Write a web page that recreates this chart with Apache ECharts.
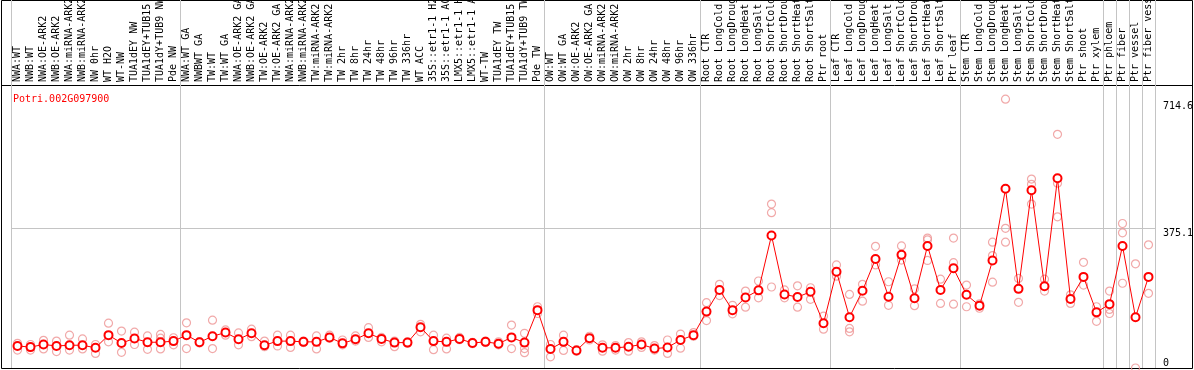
<!DOCTYPE html>
<html>
<head>
<meta charset="utf-8">
<script src="https://cdn.jsdelivr.net/npm/echarts@6/dist/echarts.min.js"></script>
<style>
  html, body { margin: 0; padding: 0; background: #fff; }
  #chart { width: 1194px; height: 370px; }
</style>
</head>
<body>
<div id="chart"></div>
<script>
const geneId = 'Potri.002G097900'

const categories = [
  'NWA:WT', 'NWB:WT', 'NWA:OE-ARK2', 'NWB:OE-ARK2', 'NWA:miRNA-ARK2', 'NWB:miRNA-ARK2', 'NW 0hr', 'WT H2O', 'WT-NW',
  'TUA1dEY NW', 'TUA1dEY+TUB15 NW', 'TUA1dY+TUB9 NW', 'Pde NW',
  'NWA:WT GA', 'NWBWT GA', 'TW:WT', 'TW:WT GA', 'NWA:OE-ARK2 GA', 'NWB:OE-ARK2 GA', 'TW:OE-ARK2', 'TW:OE-ARK2 GA',
  'NWA:miRNA-ARK2 GA', 'NWB:miRNA-ARK2 GA', 'TW:miRNA-ARK2', 'TW:miRNA-ARK2 GA',
  'TW 2hr', 'TW 8hr', 'TW 24hr', 'TW 48hr', 'TW 96hr', 'TW 336hr', 'WT ACC',
  '35S::etr1-1 H2O', '35S::etr1-1 ACC', 'LMX5::etr1-1 H2O', 'LMX5::etr1-1 ACC', 'WT-TW',
  'TUA1dEY TW', 'TUA1dEY+TUB15 TW', 'TUA1dY+TUB9 TW', 'Pde TW',
  'OW:WT', 'OW:WT GA', 'OW:OE-ARK2', 'OW:OE-ARK2 GA', 'OW:miRNA-ARK2', 'OW:miRNA-ARK2 GA',
  'OW 2hr', 'OW 8hr', 'OW 24hr', 'OW 48hr', 'OW 96hr', 'OW 336hr',
  'Root CTR', 'Root LongCold', 'Root LongDrought', 'Root LongHeat', 'Root LongSalt',
  'Root ShortCold', 'Root ShortDrought', 'Root ShortHeat', 'Root ShortSalt', 'Ptr root',
  'Leaf CTR', 'Leaf LongCold', 'Leaf LongDrought', 'Leaf LongHeat', 'Leaf LongSalt',
  'Leaf ShortCold', 'Leaf ShortDrought', 'Leaf ShortHeat', 'Leaf ShortSalt', 'Ptr leaf',
  'Stem CTR', 'Stem LongCold', 'Stem LongDrought', 'Stem LongHeat', 'Stem LongSalt',
  'Stem ShortCold', 'Stem ShortDrought', 'Stem ShortHeat', 'Stem ShortSalt', 'Ptr shoot',
  'Ptr xylem', 'Ptr phloem', 'Ptr fiber', 'Ptr vessel', 'Ptr fiber vessel'
]

// mean expression per sample
const means = [
  59, 56, 63, 59, 61, 61, 54, 88, 67, 79, 69, 69, 72, 88, 69, 85, 95, 77, 93, 61, 72, 72,
  70, 70, 82, 66, 77, 93, 78, 68, 68, 109, 72, 70, 78, 67, 70, 65, 82, 68, 155, 51, 70, 47,
  80, 54, 54, 57, 63, 52, 55, 75, 88, 151, 209, 155, 189, 208, 355, 197, 190, 204, 120, 258, 136, 207, 292, 191,
  303, 187, 327, 209, 267, 196, 167, 288, 480, 212, 476, 219, 508, 185, 244, 149, 171, 327, 136, 244
]

// individual replicates per sample
const replicates = [
  [66, 48], [63, 48], [74, 51], [72, 44], [88, 48], [78, 51], [63, 39], [120, 70], [99, 42], [96, 63],
  [86, 50], [90, 51, 80], [81, 62], [121, 52], [67, 71], [128, 52], [102, 88], [94, 62], [104, 84], [72, 57],
  [88, 59], [88, 55], [68, 72], [86, 51], [88, 80], [75, 62], [86, 72], [108, 82], [82, 70], [72, 57],
  [70, 66], [117, 97], [88, 49], [80, 51], [82, 76], [65, 69], [68, 72], [70, 62], [115, 52], [93, 52, 41],
  [164, 146], [63, 30], [88, 47], [45, 49], [75, 85], [62, 45], [60, 48], [68, 45], [70, 55], [60, 48],
  [75, 39], [91, 53], [95, 85], [175, 127], [224, 194], [168, 145], [206, 163], [233, 188], [439, 416, 217], [209, 188],
  [220, 163], [215, 184], [139, 104], [276, 246], [197, 106, 97], [224, 179], [326, 276], [231, 168], [327, 289], [212, 167],
  [348, 343, 288], [238, 173], [348, 282, 171], [222, 164], [160, 172], [337, 301, 230], [720, 374, 337], [240, 176], [506, 492, 439], [238, 206],
  [626, 495, 405], [196, 173], [283, 222], [164, 125], [206, 157, 146], [387, 362, 227], [279, 0], [330, 200]
]

// sample groups start at these indices (vertical separators)
const groupStarts = [0, 13, 41, 53, 63, 73, 84, 85, 86, 87]

const yMax = 758
const yTicks = [375.1, 714.6]
const yZero = [0]

const chart = echarts.init(document.getElementById('chart'))

const mono = 'DejaVu Sans Mono'
const sepLine = {
  show: true,
  interval: (index) => groupStarts.includes(index),
  lineStyle: { color: '#c4c4c4', width: 1 },
}

const repData = []
replicates.forEach((reps, i) => {
  reps.forEach((v) => repData.push([i, v]))
})

const option = {
  animation: false,
  title: {
    text: geneId,
    left: 8,
    top: 89,
    textStyle: { color: '#ff0000', fontSize: 10, fontFamily: mono, fontWeight: 'normal' },
  },
  grid: [
    { left: 11, right: 39, top: 85, bottom: 2, outerBoundsMode: 'none', containLabel: false },
    { left: 11, right: 39, top: 0, height: 85, outerBoundsMode: 'none', containLabel: false },
  ],
  xAxis: [
    {
      type: 'category',
      gridIndex: 0,
      position: 'top',
      data: categories,
      axisLine: { show: false },
      axisTick: { show: false },
      axisLabel: {
        interval: 0,
        rotate: 90,
        margin: 3,
        color: '#000',
        fontSize: 10,
        fontFamily: mono,
      },
      splitLine: sepLine,
    },
    {
      type: 'category',
      gridIndex: 1,
      data: categories,
      axisLine: { show: false },
      axisTick: { show: false },
      axisLabel: { show: false },
      splitLine: sepLine,
    },
  ],
  yAxis: [
    {
      type: 'value',
      gridIndex: 0,
      position: 'right',
      min: 0,
      max: yMax,
      axisLine: { show: false },
      axisTick: { show: false, customValues: [375.1] },
      axisLabel: {
        customValues: yTicks,
        margin: 8,
        verticalAlign: 'top',
        color: '#000',
        fontSize: 10,
        fontFamily: mono,
        formatter: (v) => String(v),
      },
      splitLine: { show: true, lineStyle: { color: '#c4c4c4', width: 1 } },
    },
    {
      type: 'value',
      gridIndex: 0,
      position: 'right',
      min: 0,
      max: yMax,
      axisLine: { show: false },
      axisTick: { show: false },
      axisLabel: {
        customValues: yZero,
        margin: 8,
        verticalAlign: 'bottom',
        color: '#000',
        fontSize: 10,
        fontFamily: mono,
      },
      splitLine: { show: false },
    },
    { type: 'value', gridIndex: 1, show: false, min: 0, max: 1 },
  ],
  graphic: [
    { type: 'rect', shape: { x: 1.5, y: 0.5, width: 1191, height: 368 }, style: { fill: null, stroke: '#000', lineWidth: 1 } },
    { type: 'line', shape: { x1: 1.5, y1: 85.5, x2: 1192.5, y2: 85.5 }, style: { stroke: '#000', lineWidth: 1 } },
  ],
  series: [
    {
      name: 'replicates',
      type: 'scatter',
      xAxisIndex: 0,
      yAxisIndex: 0,
      symbol: 'circle',
      symbolSize: 8,
      itemStyle: { color: 'rgba(0,0,0,0)', borderColor: '#ee9393', borderWidth: 1.2 },
      data: repData,
      z: 2,
    },
    {
      name: 'mean',
      type: 'line',
      xAxisIndex: 0,
      yAxisIndex: 0,
      symbol: 'emptyCircle',
      symbolSize: 8,
      lineStyle: { color: '#ff0000', width: 1 },
      itemStyle: { color: '#ff0000', borderWidth: 1.6 },
      data: means,
      z: 3,
    },
  ],
}

chart.setOption(option)
</script>
</body>
</html>
